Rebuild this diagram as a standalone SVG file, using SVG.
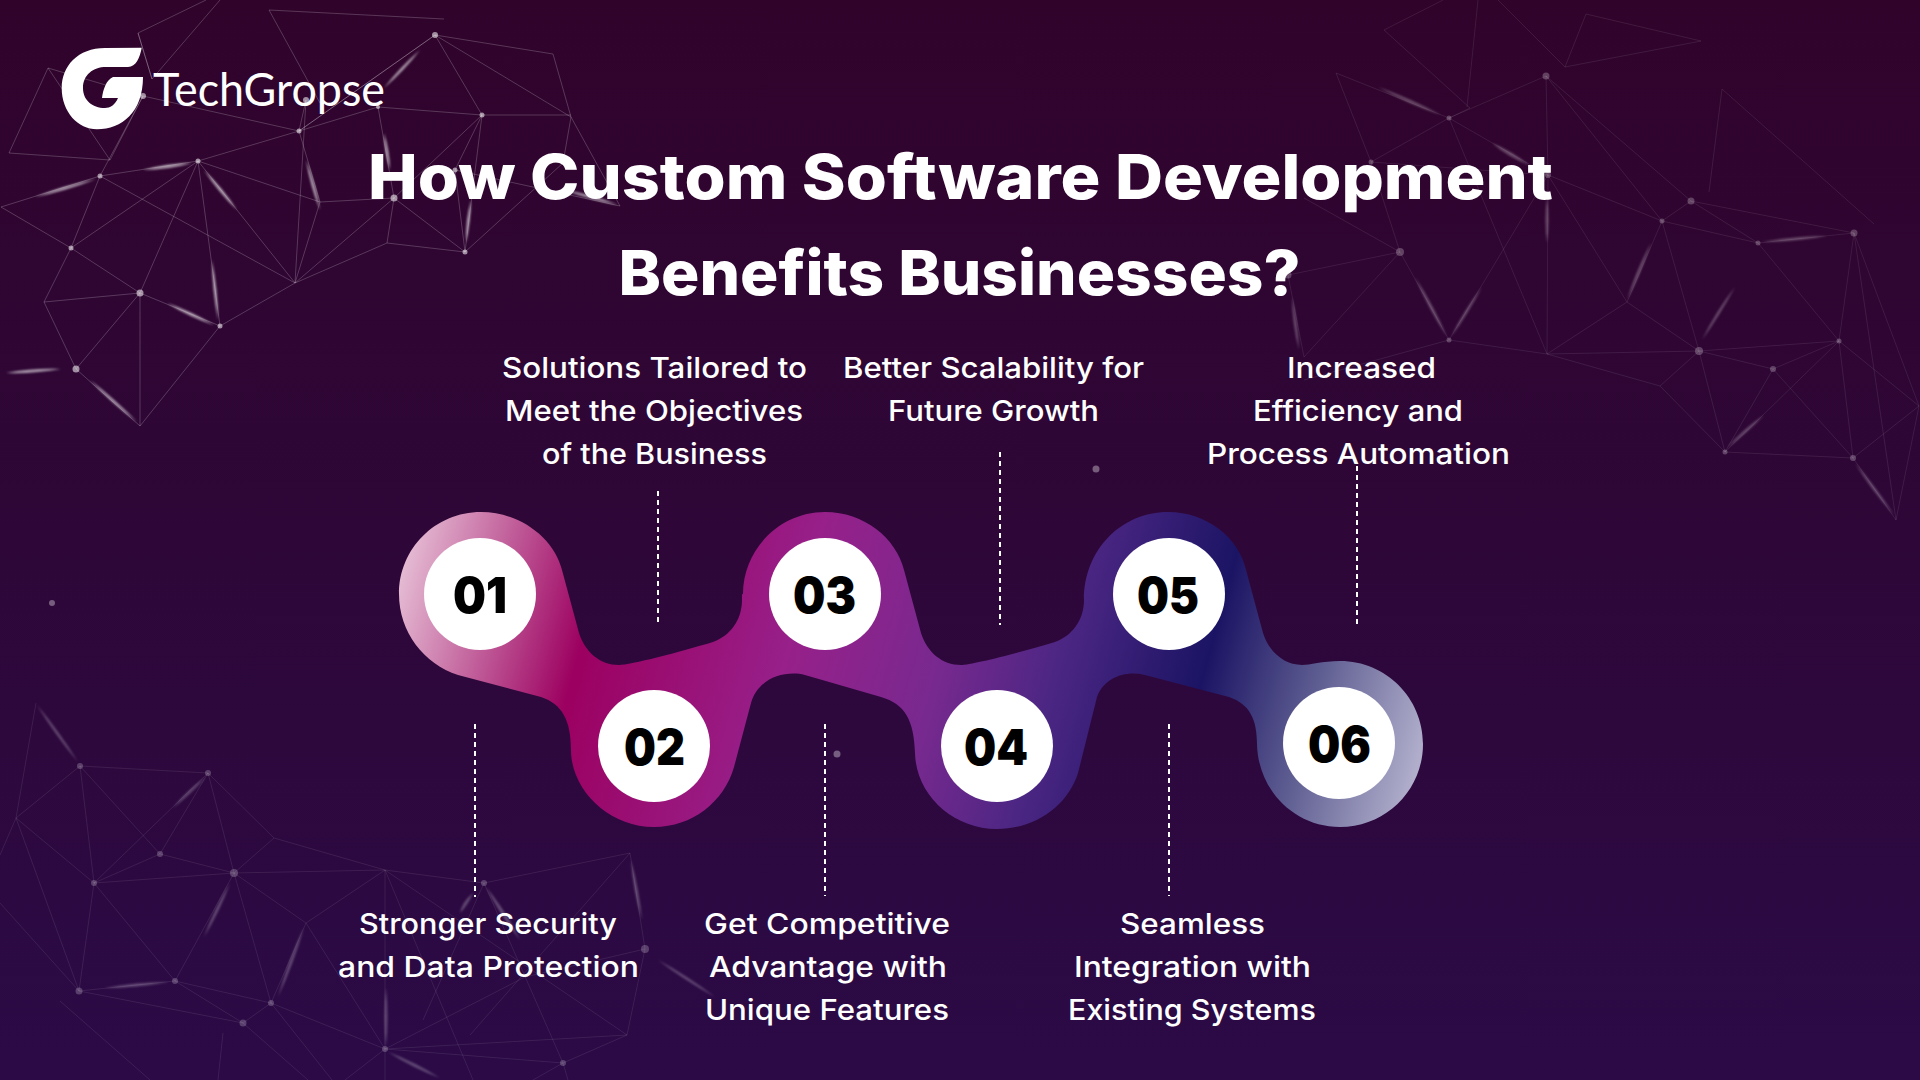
<svg xmlns="http://www.w3.org/2000/svg" width="1920" height="1080" viewBox="0 0 1920 1080">
<style>
.title{font-family:"Inter","Liberation Sans",sans-serif;font-weight:800;font-size:62px;fill:#fff}
.label{font-family:"Inter","Liberation Sans",sans-serif;font-weight:500;font-size:29px;fill:#fff}
.num{font-family:"Inter","Liberation Sans",sans-serif;font-weight:900;font-size:50px;fill:#000}
.disc{fill:#fff}
.dash{stroke:#fff;stroke-width:2;stroke-dasharray:5 4;fill:none}
.edge{fill:none;stroke:#fff;stroke-width:.8}
.streak{fill:#fff}
.dot{fill:#fff}
</style>
<defs>
<linearGradient id="bg" x1="0" y1="0" x2="0" y2="1">
<stop offset="0" stop-color="#30032b"/><stop offset=".5" stop-color="#2e0738"/><stop offset="1" stop-color="#2b0a46"/>
</linearGradient>
<linearGradient id="blob" gradientUnits="userSpaceOnUse" x1="385" y1="600" x2="1407" y2="882">
<stop offset="0" stop-color="#e8c3d8"/><stop offset=".19" stop-color="#9c0060"/><stop offset=".38" stop-color="#97208a"/><stop offset=".52" stop-color="#78298f"/><stop offset=".63" stop-color="#4b2683"/><stop offset=".763" stop-color="#1b1464"/><stop offset=".87" stop-color="#5f5e92"/><stop offset=".98" stop-color="#b0aecb"/>
</linearGradient>
<filter id="soft" x="-20%" y="-20%" width="140%" height="140%"><feGaussianBlur stdDeviation=".9"/></filter>
</defs>
<rect width="1920" height="1080" fill="url(#bg)"/>

<!-- mesh: top-left -->
<g id="mesh-a">
<path class="edge" opacity=".26" d="M435 35L482 115M435 35L571 117M435 35L553 54L571 117M482 115H571M435 35L299 131M482 115L378 107M143 96L299 131L378 107M299 131L198 161M299 131L320 202M198 161L320 202M198 161L100 176L71 248M100 176L295 283M198 161L71 248M198 161L140 293M198 161L220 326M198 161L295 283M71 248L140 293M1 207L100 176M1 207L71 248M71 248L44 302M140 293L44 302M140 293L220 326M140 293L76 369M140 293L140 426M44 302L76 369L140 426L220 326L295 283L320 202L394 198M295 283L394 198M295 283L387 243L394 198M387 243L465 252L394 198M394 198L482 115M465 252L482 115M455 170L465 252M482 115L455 170M455 170L620 206M571 117L620 206M571 117L563 163L465 252M143 96L100 176M143 96L110 160M48 68L110 160L9 153L48 68L143 96M138 33L152 79L220 0M138 33L206 0M138 33L152 79M269 10L444 19M269 10L320 103M378 107L394 198M306 100L299 131M299 131L435 35M306 100L295 283"/>
<g class="streak" opacity=".6" filter="url(#soft)">
<path d="M420 50Q404 71 384 88Q400 67 420 50Z"/><path d="M384 133Q390 151 390 170Q384 152 384 133Z"/><path d="M306 160Q316 184 320 210Q310 186 306 160Z"/><path d="M143 170Q168 170 192 163Q167 163 143 170Z"/><path d="M35 197Q66 191 96 179Q65 185 35 197Z"/><path d="M204 170Q223 188 237 210Q218 192 204 170Z"/><path d="M212 260Q218 290 218 320Q212 290 212 260Z"/><path d="M167 303Q189 317 214 325Q191 311 167 303Z"/><path d="M6 373Q33 374 61 369Q33 368 6 373Z"/><path d="M90 380Q111 403 137 422Q115 399 90 380Z"/><path d="M471 200Q471 221 466 243Q465 221 471 200Z"/><path d="M565 190Q590 200 618 205Q592 194 565 190Z"/>
</g>
<g class="dot" opacity=".55">
<circle cx="435" cy="35" r="3"/><circle cx="482" cy="115" r="2.5"/><circle cx="378" cy="107" r="2"/><circle cx="299" cy="131" r="2.5"/><circle cx="198" cy="161" r="2.5"/><circle cx="100" cy="176" r="2.5"/><circle cx="143" cy="96" r="3"/><circle cx="71" cy="248" r="2.5"/><circle cx="140" cy="293" r="3.5"/><circle cx="220" cy="326" r="2.5"/><circle cx="76" cy="369" r="3.5"/><circle cx="394" cy="198" r="3.5"/><circle cx="465" cy="252" r="2.5"/><circle cx="455" cy="170" r="2.5"/><circle cx="306" cy="100" r="3"/>
</g>
</g>

<!-- mesh: top-right -->
<g id="mesh-b">
<path class="edge" opacity=".11" d="M1546 76L1449 118M1546 76L1548 175M1546 76L1662 221M1546 76L1691 201M1565 67L1498 0M1449 118L1336 73M1336 73L1371 162M1449 118L1371 162M1449 118L1548 175M1449 118L1547 354M1371 162L1400 252M1371 162L1548 175M1400 252L1449 340M1400 252L1288 275M1400 252L1304 357M1400 252L1304 198M1288 275L1304 357M1548 175L1662 221M1548 175L1627 302M1548 175L1449 340M1548 175L1547 354M1449 340L1547 354M1449 340L1304 380M1547 354L1627 302M1547 354L1699 351M1547 354L1660 386M1627 302L1662 221M1627 302L1699 351M1662 221L1691 201M1662 221L1758 243M1662 221L1699 351M1691 201L1758 243M1691 201L1854 233M1758 243L1839 341M1758 243L1854 233M1854 233L1839 341M1854 233L1919 406M1839 341L1699 351M1839 341L1773 369M1839 341L1725 452M1839 341L1853 458M1839 341L1919 406M1699 351L1773 369M1699 351L1660 386M1699 351L1725 452M1773 369L1725 452M1773 369L1853 458M1660 386L1725 452L1853 458L1919 406M1853 458L1896 520M1854 233L1896 520M1896 520L1919 406M1384 30L1470 108M1384 30L1443 0M1470 108L1449 118M1467 107L1478 0M1565 67L1586 14L1701 41L1565 67M1722 89L1709 192M1722 89L1874 224"/>
<g class="streak" opacity=".28" filter="url(#soft)">
<path d="M1378 87Q1408 104 1441 115Q1410 98 1378 87Z"/><path d="M1492 143Q1508 157 1529 165Q1512 151 1492 143Z"/><path d="M1547 197Q1550 220 1547 243Q1544 220 1547 197Z"/><path d="M1292 297Q1298 323 1299 350Q1292 323 1292 297Z"/><path d="M1415 277Q1434 306 1447 337Q1428 308 1415 277Z"/><path d="M1451 337Q1468 314 1482 287Q1464 310 1451 337Z"/><path d="M1627 300Q1642 272 1651 243Q1636 270 1627 300Z"/><path d="M1702 340Q1720 315 1735 287Q1716 311 1702 340Z"/><path d="M1762 242Q1794 242 1827 236Q1794 236 1762 242Z"/><path d="M1727 448Q1747 433 1764 415Q1743 429 1727 448Z"/><path d="M1855 463Q1876 487 1894 515Q1872 491 1855 463Z"/>
</g>
<g class="dot" opacity=".24">
<circle cx="1546" cy="76" r="3.5"/><circle cx="1449" cy="118" r="2.5"/><circle cx="1371" cy="162" r="2.5"/><circle cx="1548" cy="175" r="3"/><circle cx="1400" cy="252" r="4"/><circle cx="1288" cy="275" r="3.5"/><circle cx="1449" cy="340" r="2.5"/><circle cx="1691" cy="201" r="3.5"/><circle cx="1662" cy="221" r="2.5"/><circle cx="1758" cy="243" r="2.5"/><circle cx="1854" cy="233" r="3.5"/><circle cx="1699" cy="351" r="4"/><circle cx="1839" cy="341" r="2.5"/><circle cx="1773" cy="369" r="3"/><circle cx="1725" cy="452" r="2.5"/><circle cx="1853" cy="458" r="3"/>
</g>
</g>

<!-- mesh: bottom-left -->
<g id="mesh-c">
<path class="edge" opacity=".11" d="M36 703L16 818M80 766L16 818M80 766L208 773M80 766L94 883M80 766L160 854M16 818L94 883M16 818L79 991M16 818L0 855M208 773L274 838M208 773L160 854M208 773L94 883M208 773L234 873M160 854L94 883M160 854L234 873M94 883L234 873M94 883L79 991M94 883L175 981M234 873L274 838M234 873L385 870M234 873L306 923M234 873L271 1003M234 873L175 981M274 838L385 870M385 870L484 883M385 870L306 923M385 870L385 1049M385 870L473 1080M385 870L627 1035M484 883L630 853M484 883L563 1063M484 883L423 1020M630 853L645 949M630 853L470 1035M645 949L627 1035M627 1035L563 1063M385 1049L563 1063M385 1049L525 977L645 949M385 1049L627 1035M306 923L271 1003M306 923L385 1049M175 981L79 991M175 981L271 1003M175 981L243 1023M79 991L243 1023M271 1003L243 1023M271 1003L385 1049M271 1003L332 1080M243 1023L308 1080M385 1049V1080M385 1049L345 1080M563 1063L533 1080M563 1063L568 1080M0 903L79 991M60 1001L150 1080M223 1033L218 1080"/>
<g class="streak" opacity=".26" filter="url(#soft)">
<path d="M37 705Q59 731 78 762Q55 735 37 705Z"/><path d="M173 808Q191 794 206 777Q187 790 173 808Z"/><path d="M204 937Q220 911 230 883Q214 909 204 937Z"/><path d="M104 988Q136 988 169 982Q136 982 104 988Z"/><path d="M278 997Q294 963 304 927Q288 961 278 997Z"/><path d="M386 987Q389 1017 386 1047Q383 1017 386 987Z"/><path d="M486 887Q506 911 520 940Q500 915 486 887Z"/><path d="M631 860Q639 889 642 920Q633 891 631 860Z"/><path d="M658 960Q684 980 715 997Q688 976 658 960Z"/><path d="M388 1052Q413 1068 440 1078Q415 1062 388 1052Z"/><path d="M473 893Q468 905 460 913Q462 902 473 893Z"/>
</g>
<g class="dot" opacity=".22">
<circle cx="80" cy="766" r="3"/><circle cx="208" cy="773" r="3"/><circle cx="94" cy="883" r="3"/><circle cx="160" cy="854" r="3"/><circle cx="234" cy="873" r="4"/><circle cx="484" cy="883" r="3"/><circle cx="79" cy="991" r="3.5"/><circle cx="175" cy="981" r="3"/><circle cx="271" cy="1003" r="3"/><circle cx="243" cy="1023" r="3.5"/><circle cx="385" cy="1049" r="3"/><circle cx="645" cy="949" r="4"/><circle cx="563" cy="1063" r="3"/>
</g>
<g class="dot" opacity=".35">
<circle cx="52" cy="603" r="3"/><circle cx="1096" cy="469" r="3.5"/><circle cx="837" cy="754" r="3.5"/>
</g>
</g>

<!-- logo -->
<g id="logo">
<path fill="#fff" d="M141.7 47.7L105 48C78 48 61.7 66 61.7 88C61.7 112 78 129.3 97 129.3C122 129.3 143 112 143 77L113 77C106 80 103 90 102 98L118 98C115 105 110 108 105 108C92 108 83 100 83 88C83 75 93 67 106 67L128 67C136 67 140 57 141.7 47.7Z"/>
<text x="153" y="106" font-family="Lato,'Liberation Sans',sans-serif" font-weight="400" font-size="46" fill="#fff" textLength="232" lengthAdjust="spacingAndGlyphs">TechGropse</text>
</g>

<g id="title">
<text class="title" x="368" y="199" textLength="1185" lengthAdjust="spacingAndGlyphs">How Custom Software Development</text>
<text class="title" x="618.5" y="295" textLength="682" lengthAdjust="spacingAndGlyphs">Benefits Businesses?</text>
</g>

<!-- ribbon -->
<path id="ribbon" fill="url(#blob)" d="M458 675C424 664 399 632 399 594C399 549 435 512 481 512C520 512 554 538 562 570L579 633C585 652 600 665 619 665C630 665 680 652 713 642C730 636 742 620 742 600C742 594 742 594 743 594C743 549 780 512 825 512C864 512 896 538 904 570L921 633C927 652 942 665 961 665C972 665 1022 652 1055 642C1072 636 1084 620 1084 600C1084 549 1122 512 1168 512C1207 512 1239 538 1246 570L1263 633C1269 652 1284 665 1302 665C1310 665 1322 661 1340 661C1386 661 1423 698 1423 744C1423 790 1386 827 1340 827C1294 827 1258 790 1257 744C1257 720 1250 704 1229 697L1145 675C1125 670 1104 678 1097 697L1078 773C1068 805 1036 829 997 829C953 829 916 795 915 753C914 720 905 704 881 697L805 675C785 670 758 678 751 703L734 767C724 802 692 827 654 827C609 827 571 790 571 750C571 720 562 704 541 697Z"/>

<!-- connectors -->
<g id="connectors" class="dash">
<line x1="475" y1="724" x2="475" y2="897"/>
<line x1="658" y1="491" x2="658" y2="625"/>
<line x1="825" y1="724" x2="825" y2="896"/>
<line x1="1000" y1="452" x2="1000" y2="625"/>
<line x1="1169" y1="724" x2="1169" y2="896"/>
<line x1="1357" y1="466" x2="1357" y2="625"/>
</g>

<g id="node-01">
<circle class="disc" cx="480" cy="594" r="56"/>
<text class="num" x="453" y="612.7" textLength="54" lengthAdjust="spacingAndGlyphs">01</text>
<text class="label" x="338" y="934" textLength="258" lengthAdjust="spacingAndGlyphs" dx="21">Stronger Security</text>
<text class="label" x="338" y="977" textLength="301" lengthAdjust="spacingAndGlyphs">and Data Protection</text>
</g>
<g id="node-02">
<circle class="disc" cx="654" cy="746" r="56"/>
<text class="num" x="624" y="765" textLength="61" lengthAdjust="spacingAndGlyphs">02</text>
<text class="label" x="502" y="378" textLength="305" lengthAdjust="spacingAndGlyphs">Solutions Tailored to</text>
<text class="label" x="505" y="421" textLength="298" lengthAdjust="spacingAndGlyphs">Meet the Objectives</text>
<text class="label" x="542" y="464" textLength="225" lengthAdjust="spacingAndGlyphs">of the Business</text>
</g>
<g id="node-03">
<circle class="disc" cx="825" cy="594" r="56"/>
<text class="num" x="793" y="612.7" textLength="63" lengthAdjust="spacingAndGlyphs">03</text>
<text class="label" x="704" y="934" textLength="246" lengthAdjust="spacingAndGlyphs">Get Competitive</text>
<text class="label" x="709" y="977" textLength="238" lengthAdjust="spacingAndGlyphs">Advantage with</text>
<text class="label" x="705" y="1020" textLength="244" lengthAdjust="spacingAndGlyphs">Unique Features</text>
</g>
<g id="node-04">
<circle class="disc" cx="997" cy="746" r="56"/>
<text class="num" x="964" y="765" textLength="64" lengthAdjust="spacingAndGlyphs">04</text>
<text class="label" x="843" y="378" textLength="301" lengthAdjust="spacingAndGlyphs">Better Scalability for</text>
<text class="label" x="888" y="421" textLength="211" lengthAdjust="spacingAndGlyphs">Future Growth</text>
</g>
<g id="node-05">
<circle class="disc" cx="1169" cy="594" r="56"/>
<text class="num" x="1137" y="612.7" textLength="62" lengthAdjust="spacingAndGlyphs">05</text>
<text class="label" x="1120" y="934" textLength="145" lengthAdjust="spacingAndGlyphs">Seamless</text>
<text class="label" x="1074" y="977" textLength="237" lengthAdjust="spacingAndGlyphs">Integration with</text>
<text class="label" x="1068" y="1020" textLength="248" lengthAdjust="spacingAndGlyphs">Existing Systems</text>
</g>
<g id="node-06">
<circle class="disc" cx="1339" cy="743" r="56"/>
<text class="num" x="1308" y="762" textLength="63" lengthAdjust="spacingAndGlyphs">06</text>
<text class="label" x="1287" y="378" textLength="149" lengthAdjust="spacingAndGlyphs">Increased</text>
<text class="label" x="1253" y="421" textLength="210" lengthAdjust="spacingAndGlyphs">Efficiency and</text>
<text class="label" x="1207" y="464" textLength="303" lengthAdjust="spacingAndGlyphs">Process Automation</text>
</g>
</svg>
